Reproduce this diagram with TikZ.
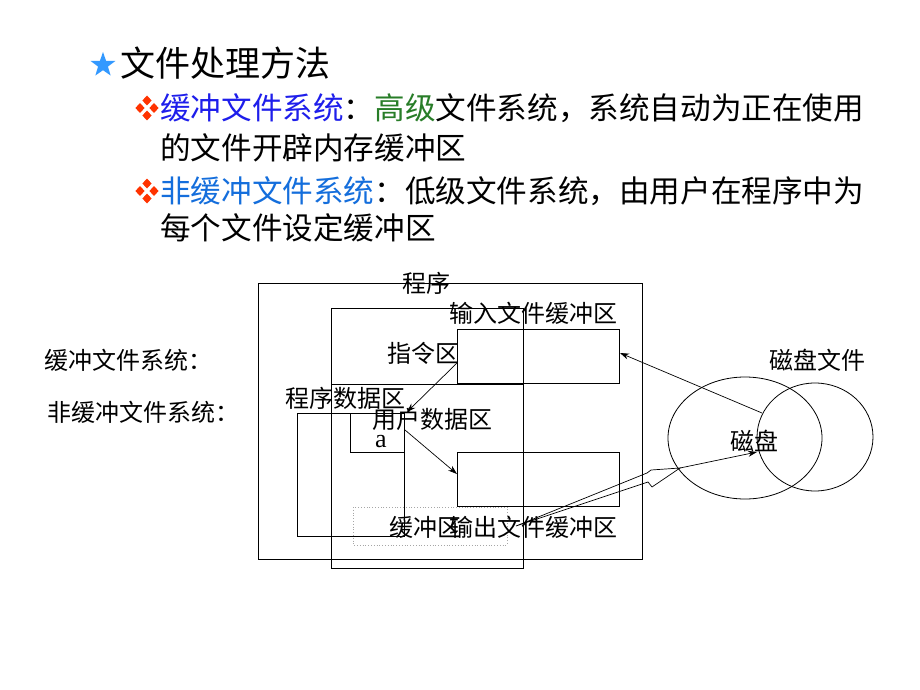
\documentclass[tikz,border=0pt]{standalone}
\usepackage{fontspec}
\setmainfont{Noto Sans CJK SC}
\newfontfamily\latfont{Liberation Serif}
\usetikzlibrary{arrows.meta,shapes.geometric}
\definecolor{tblue}{RGB}{30,30,235}
\definecolor{tlblue}{RGB}{20,110,220}
\definecolor{tgreen}{RGB}{40,125,40}
\definecolor{starblue}{RGB}{51,153,255}
\definecolor{bulletred}{RGB}{255,51,0}
\tikzset{
  box/.style={draw=black, line width=0.8pt},
  lbl/.style={inner sep=0pt, font=\fontsize{24}{28}\selectfont},
  bigline/.style={inner sep=0pt, anchor=base west, font=\fontsize{30.6}{36}\selectfont},
  arr/.style={line width=0.7pt, -{Stealth[length=9pt,width=6pt]}},
  bolt/.style={line width=0.7pt},
}
\newcommand{\mybullet}[2]{%
  \foreach \dx/\dy in {0/-7.5,-7/0,7/0,0/7.5}{%
    \fill[bulletred] (#1+\dx,#2+\dy-5) -- (#1+\dx+4.6,#2+\dy) -- (#1+\dx,#2+\dy+5) -- (#1+\dx-4.6,#2+\dy) -- cycle;}}
\begin{document}
\begin{tikzpicture}[x=1pt,y=-1pt]
\useasboundingbox[fill=white] (0,0) rectangle (920,690);

% heading
\node[star, star points=5, star point ratio=2.5, minimum size=26pt, inner sep=0pt, fill=starblue] (star) at (103,65) {};
\node[inner sep=0pt, anchor=base west, font=\fontsize{35}{40}\selectfont] (title) at (120,77) {文件处理方法};

\mybullet{147}{108}
\node[bigline] (l2) at (160,120) {\textcolor{tblue}{缓冲文件系统}：\textcolor{tgreen}{高级}文件系统，系统自动为正在使用};
\node[bigline] (l3) at (160,159) {的文件开辟内存缓冲区};
\mybullet{147}{191}
\node[bigline] (l4) at (160,202) {\textcolor{tlblue}{非缓冲文件系统}：低级文件系统，由用户在程序中为};
\node[bigline] (l5) at (160,239) {每个文件设定缓冲区};

% left labels
\node[lbl, anchor=west] (buflbl) at (44,360) {缓冲文件系统：};
\node[lbl, anchor=west] (nbuflbl) at (47,412) {非缓冲文件系统：};

% boxes
\draw[box] (258,283) rectangle (642,559);
\draw[box] (331,308) rectangle (523,568);
\draw[box] (331,384) -- (523,384);
\draw[box] (457,329) rectangle (619,383);
\draw[box] (457,452) rectangle (619,506);
\draw[box] (297,413) rectangle (404,536);
\draw[box] (350,413) rectangle (404,452);
\draw[gray!70, line width=0.8pt, dotted] (353,507) rectangle (507,545);

% ellipses
\draw[box] (745,438) ellipse [x radius=77, y radius=61];
\draw[box] (815,437) ellipse [x radius=58, y radius=54];

% labels
\node[lbl] (prog) at (426,283) {程序};
\node[lbl] (inbuf) at (533,313) {输入文件缓冲区};
\node[lbl] (instr) at (423,353) {指令区};
\node[lbl] (pdata) at (345,398) {程序数据区};
\node[lbl] (udata) at (432,419) {用户数据区};
\node[inner sep=0pt, font=\latfont\fontsize{26}{28}\selectfont] (avar) at (381,442) {a};
\node[lbl] (buf) at (425,527) {缓冲区};
\node[lbl] (outbuf) at (533,527) {输出文件缓冲区};
\node[lbl] (diskfile) at (817,360) {磁盘文件};
\node[lbl] (disk) at (754,441) {磁盘};

% arrows
\coordinate (a1s) at (457,363);
\coordinate (a1e) at (407,412);
\coordinate (a2s) at (405,430);
\coordinate (a2e) at (457,474);
\coordinate (a3s) at (762,413);
\coordinate (a3e) at (620,353);
\draw[arr] (a1s) -- (a1e);
\draw[arr] (a2s) -- (a2e);
\draw[arr] (a3s) -- (a3e);

\coordinate (tip) at (516,526);
\coordinate (apex) at (680,468);
\coordinate (dsk) at (757,452);
\draw[bolt, line join=miter] (tip) -- (647,473) -- (651,470) -- (apex) -- (652,487) -- (648,482) -- cycle;
\draw[arr] (apex) -- (dsk);
\end{tikzpicture}
\end{document}
